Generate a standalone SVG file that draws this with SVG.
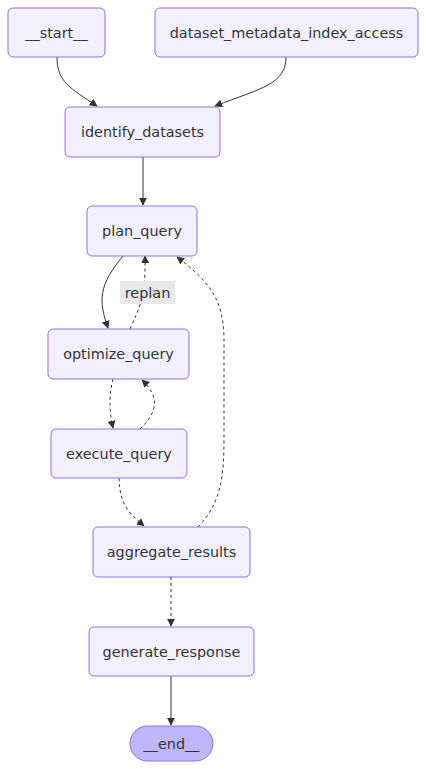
<svg xmlns="http://www.w3.org/2000/svg" width="426" height="769" viewBox="0 0 426 769">
<defs>
<marker id="arr" viewBox="0 0 10 10" refX="9" refY="5" markerWidth="8" markerHeight="8" markerUnits="userSpaceOnUse" orient="auto">
<path d="M0,0 L10,5 L0,10 z" fill="#333"/>
</marker>
</defs>
<style>
.node rect{fill:#f2f0ff;stroke:#9370DB;stroke-width:1}
.node.last rect{fill:#bfb6fc}
.node text{font-family:"DejaVu Sans",sans-serif;font-size:14.4px;fill:#333;text-anchor:middle;dominant-baseline:central}
.edge{fill:none;stroke:#333;stroke-width:1}
.dash{stroke-dasharray:3,3}
.lbl rect{fill:#e8e8e8}
.lbl text{font-family:"DejaVu Sans",sans-serif;font-size:14.4px;fill:#333;text-anchor:middle;dominant-baseline:central}
</style>
<rect width="426" height="769" fill="#fff"/>
<g id="connectors">
<path class="edge" d="M57,57 C57,82 70,88 97,106" marker-end="url(#arr)"/>
<path class="edge" d="M286,57 C286,84 262,88 215,106" marker-end="url(#arr)"/>
<path class="edge" d="M143,157 L143,205" marker-end="url(#arr)"/>
<path class="edge" d="M123,256 C99,285 98,300 108,328" marker-end="url(#arr)"/>
<path class="edge dash" d="M130,329 C138,310 146,300 145,256" marker-end="url(#arr)"/>
<path class="edge dash" d="M113,379 C109,395 109,410 113,428" marker-end="url(#arr)"/>
<path class="edge dash" d="M140,429 C160,410 158,395 142,380" marker-end="url(#arr)"/>
<path class="edge dash" d="M119,478 C120,505 128,512 144,526" marker-end="url(#arr)"/>
<path class="edge dash" d="M198,527 C224,500 224,470 224,430 L224,340 C224,300 210,282 177,257" marker-end="url(#arr)"/>
<path class="edge dash" d="M171,577 L171,626" marker-end="url(#arr)"/>
<path class="edge" d="M171,676 L171,725" marker-end="url(#arr)"/>
<g class="lbl"><rect x="120" y="281" width="55" height="23"/><text x="147.5" y="292.5">replan</text></g>
</g>
<g id="start" class="node"><rect x="8" y="8" width="97" height="49" rx="5"/><text x="56.5" y="32.5">__start__</text></g>
<g id="dataset_metadata_index_access" class="node"><rect x="155" y="8" width="263" height="49" rx="5"/><text x="286.5" y="32.5">dataset_metadata_index_access</text></g>
<g id="identify_datasets" class="node"><rect x="65" y="107" width="155" height="50" rx="5"/><text x="142.5" y="132">identify_datasets</text></g>
<g id="plan_query" class="node"><rect x="87" y="206" width="110" height="50" rx="5"/><text x="142" y="231">plan_query</text></g>
<g id="optimize_query" class="node"><rect x="48" y="329" width="141" height="50" rx="5"/><text x="118.5" y="354">optimize_query</text></g>
<g id="execute_query" class="node"><rect x="51" y="429" width="136" height="49" rx="5"/><text x="119" y="453.5">execute_query</text></g>
<g id="aggregate_results" class="node"><rect x="93" y="527" width="157" height="50" rx="5"/><text x="171.5" y="552">aggregate_results</text></g>
<g id="generate_response" class="node"><rect x="89" y="627" width="165" height="49" rx="5"/><text x="171.5" y="651.5">generate_response</text></g>
<g id="end" class="node last"><rect x="130" y="726" width="83" height="35" rx="17.5"/><text x="171.5" y="743.5">__end__</text></g>
</svg>
